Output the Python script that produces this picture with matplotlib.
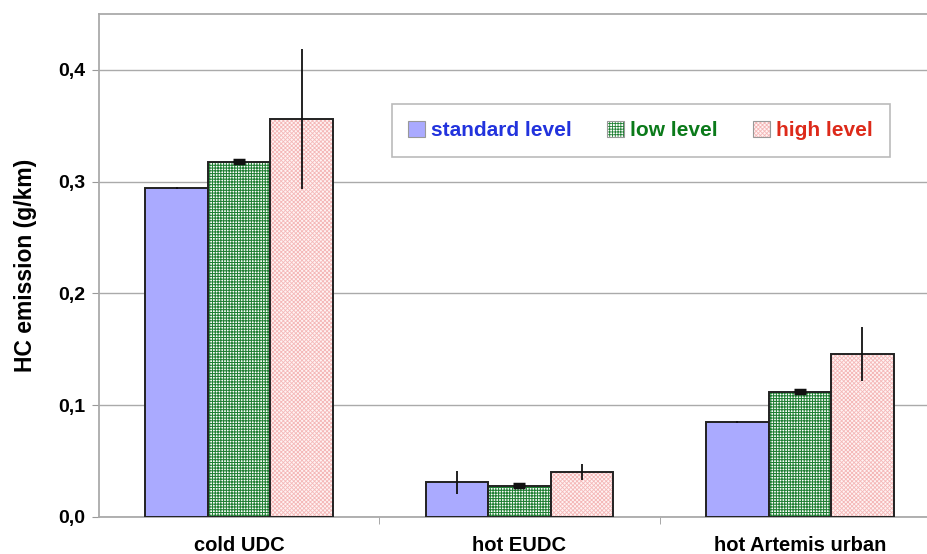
import matplotlib
matplotlib.use("Agg")
import matplotlib.pyplot as plt
import numpy as np
from matplotlib.patches import Patch

plt.rcParams['font.family'] = ['Liberation Sans', 'DejaVu Sans']

categories = ["cold UDC", "hot EUDC", "hot Artemis urban"]
series_names = ["standard level", "low level", "high level"]
standard = [0.294, 0.031, 0.085]
low = [0.318, 0.028, 0.112]
high = [0.356, 0.040, 0.146]
standard_err = [0.001, 0.010, 0.001]
low_err = [0.0012, 0.0012, 0.0012]
high_err = [0.063, 0.007, 0.024]
yticks = [0.0, 0.1, 0.2, 0.3, 0.4]
ytick_labels = ["0,0", "0,1", "0,2", "0,3", "0,4"]

W, H = 928, 554
fig = plt.figure(figsize=(W / 100, H / 100), dpi=100)
left, right, top, bottom = 99, 940, 14, 517
ax = fig.add_axes([left / W, (H - bottom) / H, (right - left) / W, (bottom - top) / H])

x = np.arange(len(categories))
bw = 0.223
styles = [
    dict(facecolor="#aaaaff", hatch=None, hatchcolor=None, hlw=0.8, caps=0),
    dict(facecolor="white", hatch="++++++", hatchcolor="#1f7f33", hlw=0.75, caps=4),
    dict(facecolor="#fff3f3", hatch="xxxxxxxx", hatchcolor="#f4b8b8", hlw=0.6, caps=0),
]
data = [standard, low, high]
errs = [standard_err, low_err, high_err]
for i, (vals, err, st) in enumerate(zip(data, errs, styles)):
    plt.rcParams['hatch.linewidth'] = st["hlw"]
    pos = x + (i - 1) * bw
    bars = ax.bar(pos, vals, width=bw, facecolor=st["facecolor"], edgecolor="#222222",
                  linewidth=1.4, zorder=3)
    if st["hatch"]:
        for b in bars:
            b.set_hatch(st["hatch"])
            b._hatch_color = matplotlib.colors.to_rgba(st["hatchcolor"])
    ax.errorbar(pos, vals, yerr=err, fmt="none", ecolor="#111111", elinewidth=1.3,
                capsize=st["caps"], capthick=2.5, zorder=4)

ax.set_xlim(-0.5, 2.5)
ax.set_ylim(0, 0.45)
ax.set_yticks(yticks)
ax.set_yticklabels(ytick_labels, fontsize=14, fontweight="bold")
ax.set_xticks(x)
ax.set_xticklabels(categories, fontsize=14.5, fontweight="bold")
ax.tick_params(axis="x", length=0, pad=14)
ax.set_xticks([0.5, 1.5], minor=True)
ax.tick_params(axis="x", which="minor", length=5, color="#999999", direction="out")
ax.tick_params(axis="y", length=5, color="#999999", direction="out", pad=5)
ax.yaxis.grid(True, color="#aaaaaa", linewidth=1.0, zorder=0)
ax.set_axisbelow(True)
for s in ["left", "bottom", "top"]:
    ax.spines[s].set_color("#aaaaaa")
    ax.spines[s].set_linewidth(1.3)
ax.spines["right"].set_visible(False)
ax.set_ylabel("HC emission (g/km)", fontsize=16.5, fontweight="bold", labelpad=15)

handles = []
for name, st in zip(series_names, styles):
    plt.rcParams['hatch.linewidth'] = st["hlw"]
    p = Patch(facecolor=st["facecolor"], edgecolor="#999999", linewidth=0.8,
              hatch=st["hatch"])
    if st["hatch"]:
        p._hatch_color = matplotlib.colors.to_rgba(st["hatchcolor"])
    handles.append(p)
leg = ax.legend(handles, series_names, loc="upper left", bbox_to_anchor=(0.348, 0.821),
                ncol=3, frameon=True, fancybox=False, edgecolor="#aaaaaa",
                prop=dict(size=15, weight="bold"), handlelength=0.8, handleheight=0.8,
                handletextpad=0.3, columnspacing=1.7, borderpad=0.8, borderaxespad=0)
leg.get_frame().set_linewidth(1.2)
for t, c in zip(leg.get_texts(), ["#2233dd", "#0b7a1a", "#dd2a1a"]):
    t.set_color(c)

fig.savefig("out.png", dpi=100)
